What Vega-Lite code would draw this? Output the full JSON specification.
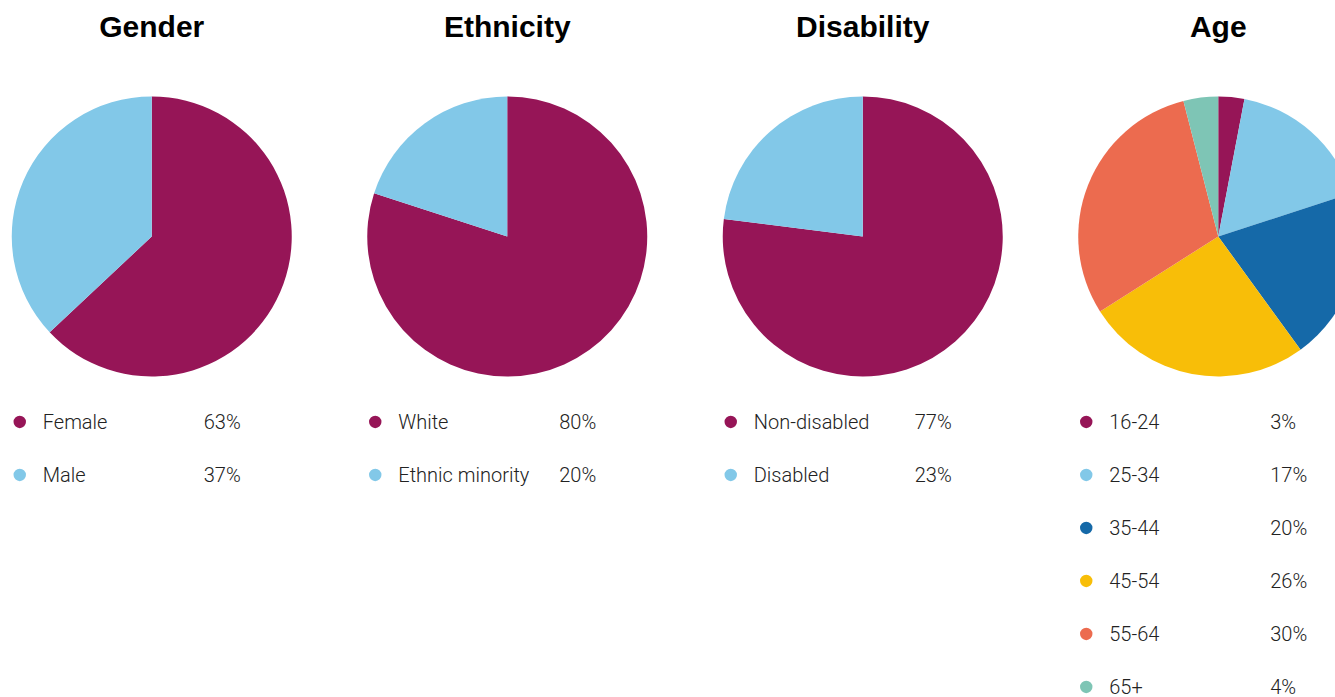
{
  "$schema": "https://vega.github.io/schema/vega-lite/v6.json",
  "width": 1335,
  "height": 697,
  "autosize": {"type": "none"},
  "padding": 0,
  "background": "white",
  "config": {"view": {"stroke": null}},
  "data": {
    "values": [
      {"panel": "Gender", "col": 0, "label": "Female", "pct": 63, "rank": 0},
      {"panel": "Gender", "col": 0, "label": "Male", "pct": 37, "rank": 1},
      {"panel": "Ethnicity", "col": 1, "label": "White", "pct": 80, "rank": 0},
      {"panel": "Ethnicity", "col": 1, "label": "Ethnic minority", "pct": 20, "rank": 1},
      {"panel": "Disability", "col": 2, "label": "Non-disabled", "pct": 77, "rank": 0},
      {"panel": "Disability", "col": 2, "label": "Disabled", "pct": 23, "rank": 1},
      {"panel": "Age", "col": 3, "label": "16-24", "pct": 3, "rank": 0},
      {"panel": "Age", "col": 3, "label": "25-34", "pct": 17, "rank": 1},
      {"panel": "Age", "col": 3, "label": "35-44", "pct": 20, "rank": 2},
      {"panel": "Age", "col": 3, "label": "45-54", "pct": 26, "rank": 3},
      {"panel": "Age", "col": 3, "label": "55-64", "pct": 30, "rank": 4},
      {"panel": "Age", "col": 3, "label": "65+", "pct": 4, "rank": 5}
    ]
  },
  "layer": [
    {
      "transform": [{"filter": "datum.panel == 'Gender'"}],
      "mark": {"type": "arc", "outerRadius": 140},
      "encoding": {
        "x": {"datum": 0, "type": "quantitative", "scale": {"domain": [-0.42686, 3.32841], "nice": false, "zero": false}, "axis": null},
        "y": {"datum": -3.5, "type": "quantitative", "scale": {"domain": [-7.962, 5.189], "reverse": true, "nice": false, "zero": false}, "axis": null},
        "theta": {"field": "pct", "type": "quantitative", "stack": true, "scale": {"domain": [0, 100]}},
        "order": {"field": "rank", "type": "quantitative", "sort": "ascending"},
        "color": {
          "field": "label", "type": "nominal", "legend": null,
          "scale": {
            "domain": ["Female", "Male", "White", "Ethnic minority", "Non-disabled", "Disabled", "16-24", "25-34", "35-44", "45-54", "55-64", "65+"],
            "range": ["#961557", "#82C8E8", "#961557", "#82C8E8", "#961557", "#82C8E8", "#961557", "#82C8E8", "#1569A8", "#F8BE08", "#EC6B4F", "#7EC5B5"]
          }
        }
      }
    },
    {
      "transform": [{"filter": "datum.panel == 'Ethnicity'"}],
      "mark": {"type": "arc", "outerRadius": 140},
      "encoding": {
        "x": {"datum": 1, "type": "quantitative", "scale": {"domain": [-0.42686, 3.32841], "nice": false, "zero": false}, "axis": null},
        "y": {"datum": -3.5, "type": "quantitative", "scale": {"domain": [-7.962, 5.189], "reverse": true, "nice": false, "zero": false}, "axis": null},
        "theta": {"field": "pct", "type": "quantitative", "stack": true, "scale": {"domain": [0, 100]}},
        "order": {"field": "rank", "type": "quantitative", "sort": "ascending"},
        "color": {"field": "label", "type": "nominal", "legend": null}
      }
    },
    {
      "transform": [{"filter": "datum.panel == 'Disability'"}],
      "mark": {"type": "arc", "outerRadius": 140},
      "encoding": {
        "x": {"datum": 2, "type": "quantitative", "scale": {"domain": [-0.42686, 3.32841], "nice": false, "zero": false}, "axis": null},
        "y": {"datum": -3.5, "type": "quantitative", "scale": {"domain": [-7.962, 5.189], "reverse": true, "nice": false, "zero": false}, "axis": null},
        "theta": {"field": "pct", "type": "quantitative", "stack": true, "scale": {"domain": [0, 100]}},
        "order": {"field": "rank", "type": "quantitative", "sort": "ascending"},
        "color": {"field": "label", "type": "nominal", "legend": null}
      }
    },
    {
      "transform": [{"filter": "datum.panel == 'Age'"}],
      "mark": {"type": "arc", "outerRadius": 140},
      "encoding": {
        "x": {"datum": 3, "type": "quantitative", "scale": {"domain": [-0.42686, 3.32841], "nice": false, "zero": false}, "axis": null},
        "y": {"datum": -3.5, "type": "quantitative", "scale": {"domain": [-7.962, 5.189], "reverse": true, "nice": false, "zero": false}, "axis": null},
        "theta": {"field": "pct", "type": "quantitative", "stack": true, "scale": {"domain": [0, 100]}},
        "order": {"field": "rank", "type": "quantitative", "sort": "ascending"},
        "color": {"field": "label", "type": "nominal", "legend": null}
      }
    },
    {
      "transform": [{"filter": "datum.rank == 0"}],
      "mark": {"type": "text", "font": "Liberation Sans", "fontWeight": "bold", "fontSize": 30, "align": "center", "baseline": "alphabetic", "color": "#000000"},
      "encoding": {
        "x": {"field": "col", "type": "quantitative", "scale": {"domain": [-0.42686, 3.32841], "nice": false, "zero": false}, "axis": null},
        "y": {"datum": -7.264, "type": "quantitative", "scale": {"domain": [-7.962, 5.189], "reverse": true, "nice": false, "zero": false}, "axis": null},
        "text": {"field": "panel"}
      }
    },
    {
      "mark": {"type": "point", "filled": true, "size": 154, "opacity": 1, "xOffset": -132},
      "encoding": {
        "x": {"field": "col", "type": "quantitative", "scale": {"domain": [-0.42686, 3.32841], "nice": false, "zero": false}, "axis": null},
        "y": {"field": "rank", "type": "quantitative", "scale": {"domain": [-7.962, 5.189], "reverse": true, "nice": false, "zero": false}, "axis": null},
        "color": {"field": "label", "type": "nominal", "legend": null}
      }
    },
    {
      "mark": {"type": "text", "font": "Roboto", "fontWeight": 300, "fontSize": 20, "align": "left", "baseline": "alphabetic", "dx": -109, "dy": 7, "color": "#222222"},
      "encoding": {
        "x": {"field": "col", "type": "quantitative", "scale": {"domain": [-0.42686, 3.32841], "nice": false, "zero": false}, "axis": null},
        "y": {"field": "rank", "type": "quantitative", "scale": {"domain": [-7.962, 5.189], "reverse": true, "nice": false, "zero": false}, "axis": null},
        "text": {"field": "label"}
      }
    },
    {
      "transform": [{"calculate": "datum.pct + '%'", "as": "pct_text"}],
      "mark": {"type": "text", "font": "Roboto", "fontWeight": 300, "fontSize": 20, "align": "left", "baseline": "alphabetic", "dx": 52, "dy": 7, "color": "#222222"},
      "encoding": {
        "x": {"field": "col", "type": "quantitative", "scale": {"domain": [-0.42686, 3.32841], "nice": false, "zero": false}, "axis": null},
        "y": {"field": "rank", "type": "quantitative", "scale": {"domain": [-7.962, 5.189], "reverse": true, "nice": false, "zero": false}, "axis": null},
        "text": {"field": "pct_text"}
      }
    }
  ]
}
